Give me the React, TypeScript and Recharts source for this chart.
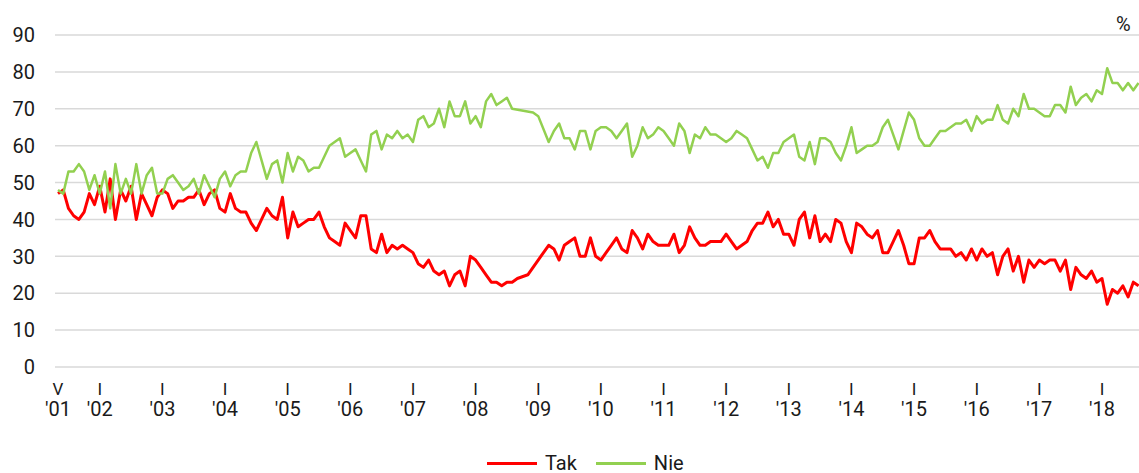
import { LineChart, Line, XAxis, YAxis, CartesianGrid } from 'recharts'

document.body.style.margin = '0'

// monthly survey, May 2001 - Aug 2018 (null = no survey that month)
const tak: (number | null)[] = [
  47, 48, 43, 41, 40, 42, 47, 44, // 2001 V-XII
  49, 42, 51, 40, 48, 45, 49, 40, 47, 44, 41, 46, // 2002
  48, 47, 43, 45, 45, 46, 46, 48, 44, 47, 48, 43, // 2003
  42, 47, 43, 42, 42, 39, 37, 40, 43, 41, 40, 46, // 2004
  35, 42, 38, 39, 40, 40, 42, 38, 35, 34, 33, 39, // 2005
  37, 35, 41, 41, 32, 31, 36, 31, 33, 32, 33, 32, // 2006
  31, 28, 27, 29, 26, 25, 26, 22, 25, 26, 22, 30, // 2007
  29, 27, 25, 23, 23, 22, 23, 23, 24, null, 25, null, // 2008
  null, null, 33, 32, 29, 33, 34, 35, 30, 30, 35, 30, // 2009
  29, 31, 33, 35, 32, 31, 37, 35, 32, 36, 34, 33, // 2010
  33, 33, 36, 31, 33, 38, 35, 33, 33, 34, 34, 34, // 2011
  36, 34, 32, 33, 34, 37, 39, 39, 42, 38, 40, 36, // 2012
  36, 33, 40, 42, 35, 41, 34, 36, 34, 40, 39, 34, // 2013
  31, 39, 38, 36, 35, 37, 31, 31, 34, 37, 33, 28, // 2014
  28, 35, 35, 37, 34, 32, 32, 32, 30, 31, 29, 32, // 2015
  29, 32, 30, 31, 25, 30, 32, 26, 30, 23, 29, 27, // 2016
  29, 28, 29, 29, 26, 29, 21, 27, 25, 24, 26, 23, // 2017
  24, 17, 21, 20, 22, 19, 23, 22, // 2018 I-VIII
]

const nie: (number | null)[] = [
  48, 47, 53, 53, 55, 53, 48, 52,
  47, 53, 43, 55, 47, 51, 47, 55, 47, 52, 54, 47,
  47, 51, 52, 50, 48, 49, 51, 47, 52, 49, 46, 51,
  53, 49, 52, 53, 53, 58, 61, 56, 51, 55, 56, 50,
  58, 53, 57, 56, 53, 54, 54, 57, 60, 61, 62, 57,
  58, 59, 56, 53, 63, 64, 59, 63, 62, 64, 62, 63,
  61, 67, 68, 65, 66, 70, 65, 72, 68, 68, 72, 66,
  68, 65, 72, 74, 71, 72, 73, 70, null, null, null, 69,
  68, null, 61, 64, 66, 62, 62, 59, 64, 64, 59, 64,
  65, 65, 64, 62, 64, 66, 57, 60, 65, 62, 63, 65,
  64, 62, 60, 66, 64, 58, 63, 62, 65, 63, 63, 62,
  61, 62, 64, 63, 62, 59, 56, 57, 54, 58, 58, 61,
  62, 63, 57, 56, 61, 55, 62, 62, 61, 58, 56, 60,
  65, 58, 59, 60, 60, 61, 65, 67, 63, 59, 64, 69,
  67, 62, 60, 60, 62, 64, 64, 65, 66, 66, 67, 64,
  68, 66, 67, 67, 71, 67, 66, 70, 68, 74, 70, 70,
  69, 68, 68, 71, 71, 69, 76, 71, 73, 74, 72, 75,
  74, 81, 77, 77, 75, 77, 75, 77,
]

// x ticks: month index (0 = May 2001), roman month, year
const tickIdx = [0, 8, 20, 32, 44, 56, 68, 80, 92, 104, 116, 128, 140, 152, 164, 176, 188, 200]
const tickMonths = ['V', 'I', 'I', 'I', 'I', 'I', 'I', 'I', 'I', 'I', 'I', 'I', 'I', 'I', 'I', 'I', 'I', 'I']
const tickYears = ["'01", "'02", "'03", "'04", "'05", "'06", "'07", "'08", "'09", "'10", "'11", "'12", "'13", "'14", "'15", "'16", "'17", "'18"]
const yTicks = [0, 10, 20, 30, 40, 50, 60, 70, 80, 90]

const FONT = 'Roboto, sans-serif'
const TEXT = '#1a1a1a'

const rows = tak.map((v, i) => ({ m: i, tak: v, nie: nie[i] }))

function XTick({ x, payload }: any) {
  const i = tickIdx.indexOf(payload.value)
  return (
    <g>
      <text x={x} y={395} textAnchor="middle" fontSize={17} fill={TEXT} fontFamily={FONT}>{tickMonths[i]}</text>
      <text x={x} y={416} textAnchor="middle" fontSize={20} fill={TEXT} fontFamily={FONT}>{tickYears[i]}</text>
    </g>
  )
}

function YTick({ y, payload }: any) {
  return (
    <text x={35} y={y} dy="0.36em" textAnchor="end" fontSize={20} fill={TEXT} fontFamily={FONT}>
      {payload.value}
    </text>
  )
}

export default function App() {
  return (
    <div style={{ position: 'relative', width: 1139, height: 473, fontFamily: FONT, color: TEXT }}>
      <LineChart width={1139} height={473} data={rows} margin={{ top: 35, right: 0, bottom: 0, left: 0 }}>
        <CartesianGrid vertical={false} stroke="#d9d9d9" strokeWidth={1.5} />
        <XAxis
          dataKey="m"
          type="number"
          domain={[-0.575, 207.09]}
          allowDataOverflow
          ticks={tickIdx}
          interval={0}
          tick={<XTick />}
          axisLine={false}
          tickLine={false}
          height={106}
        />
        <YAxis
          domain={[0, 90]}
          ticks={yTicks}
          interval={0}
          tick={<YTick />}
          axisLine={false}
          tickLine={false}
          width={55}
        />
        <Line type="linear" dataKey="tak" stroke="#ff0000" strokeWidth={3} dot={false} activeDot={false}
          connectNulls strokeLinejoin="round" isAnimationActive={false} />
        <Line type="linear" dataKey="nie" stroke="#92d050" strokeWidth={2.5} dot={false} activeDot={false}
          connectNulls strokeLinejoin="round" isAnimationActive={false} />
      </LineChart>

      <span style={{ position: 'absolute', left: 1116, top: 12, fontSize: 20, lineHeight: '24px' }}>%</span>

      <div style={{ position: 'absolute', left: 487, top: 451, height: 24, display: 'flex', alignItems: 'center', fontSize: 20 }}>
        <span style={{ width: 50, height: 3, background: '#ff0000' }} />
        <span style={{ marginLeft: 8 }}>Tak</span>
        <span style={{ width: 50, height: 3, background: '#92d050', marginLeft: 19 }} />
        <span style={{ marginLeft: 8 }}>Nie</span>
      </div>
    </div>
  )
}
